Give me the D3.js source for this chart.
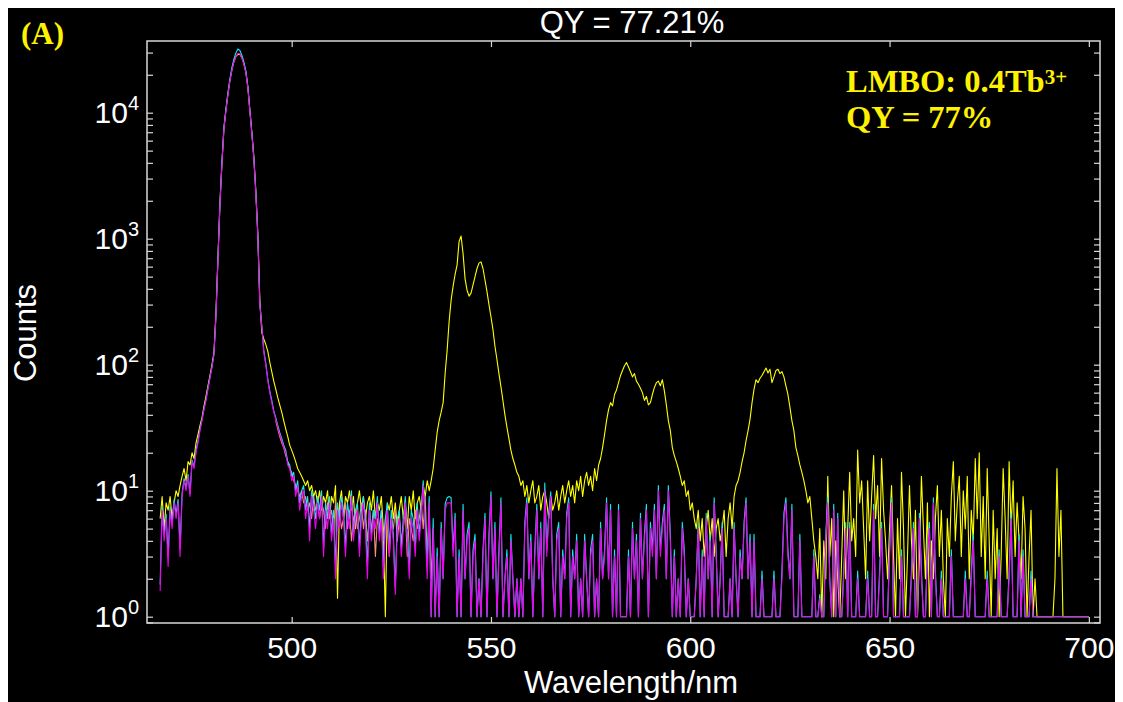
<!DOCTYPE html>
<html>
<head>
<meta charset="utf-8">
<script src="https://cdn.jsdelivr.net/npm/d3@7"></script>
<style>
  html, body { margin: 0; padding: 0; background: #fff; }
  svg { display: block; }
</style>
</head>
<body>
<svg id="chart" width="1123" height="702"></svg>
<script>
// spectra sampled every 0.5 nm starting at 467 nm
var wlStart = 467;
var wlStep = 0.5;

// sample (yellow) - LMBO:0.4Tb
var sampleCounts = [
  6, 9, 5, 8, 7, 9, 6, 8, 10, 9,
  11, 13, 15, 12, 17, 16, 20, 18, 24, 28,
  33, 38, 47, 56, 68, 82, 100, 125, 260, 700,
  1900, 4000, 7500, 10500, 14000, 18000, 22000, 25500, 28000, 29000,
  29000, 27500, 24500, 21000, 16000, 10500, 7000, 4500, 2400, 1100,
  330, 180, 160, 145, 128, 105, 88, 74, 64, 55,
  48, 42, 36, 31, 27, 23, 21, 19, 17, 15,
  14, 13, 12, 11, 12, 10, 11, 9, 10, 8,
  10, 7, 9, 8, 10, 6, 9, 8, 11, 1.4,
  8, 10, 6, 9, 8, 10, 7, 9, 5, 8,
  10, 7, 9, 6, 8, 9, 7, 10, 6, 8,
  7, 9, 5, 1, 8, 7, 9, 6, 8, 5,
  7, 9, 6, 8, 5, 9, 7, 10, 6, 8,
  9, 7, 11, 9, 12, 10, 12, 15, 21, 29,
  36, 42, 50, 85, 130, 220, 325, 420, 520, 620,
  950, 1050, 760, 480, 390, 350, 370, 430, 500, 580,
  640, 655, 580, 470, 380, 300, 240, 190, 140, 110,
  85, 67, 52, 40, 32, 26, 21, 18, 16, 14,
  13, 11, 12, 9, 11, 8, 10, 12, 8, 9,
  11, 7, 9, 10, 8, 6, 9, 7, 8, 10,
  7, 9, 11, 8, 10, 12, 9, 11, 8, 12,
  10, 13, 9, 12, 14, 11, 13, 10, 15, 12,
  16, 18, 22, 28, 36, 44, 50, 47, 58, 63,
  72, 82, 90, 98, 104, 96, 88, 80, 85, 74,
  70, 65, 60, 52, 56, 48, 50, 58, 66, 72,
  74, 68, 76, 62, 48, 36, 30, 22, 19, 17,
  15, 13, 11, 12, 9, 10, 7, 8, 6, 5,
  7, 4, 6, 3, 5, 7, 4, 6, 3, 5,
  6, 4, 5, 7, 3, 6, 8, 5, 9, 11,
  12, 14, 17, 20, 25, 30, 37, 50, 64, 76,
  72, 78, 82, 88, 94, 86, 92, 72, 80, 90,
  92, 85, 88, 80, 68, 58, 46, 36, 30, 22,
  19, 16, 14, 12, 10, 8, 9, 6, 4, 3,
  2, 5, 1, 4, 2, 13, 3, 6, 1, 4,
  2, 1, 3, 10, 2, 5, 14, 4, 6, 3,
  21, 8, 12, 5, 2, 12, 4, 9, 19, 6,
  11, 3, 18, 7, 4, 2, 5, 11, 3, 1,
  6, 2, 14, 5, 1, 3, 11, 4, 2, 7,
  1, 3, 13, 5, 2, 8, 1, 4, 2, 6,
  11, 3, 7, 2, 1, 6, 3, 9, 17, 4,
  8, 13, 3, 10, 5, 13, 2, 7, 4, 18,
  6, 20, 3, 9, 2, 15, 4, 1, 7, 2,
  5, 1, 3, 15, 6, 2, 17, 5, 12, 3,
  8, 4, 2, 9, 5, 1, 3, 7, 1, 2,
  1, 1, 1, 1, 1, 1, 1, 1, 1, 2,
  15, 3, 7, 1, 1, 1, 1, 1, 1, 1,
  1, 1, 1, 1, 1, 1, 1
];

// reference scan (magenta)
var blankMagenta = [
  1.6, 7, 4, 6, 2.5, 7, 5, 8, 6, 8,
  3, 9, 12, 10, 13, 9, 17, 15, 20, 24,
  30, 36, 44, 52, 64, 78, 95, 120, 240, 680,
  1850, 3900, 7400, 10300, 13800, 17800, 21800, 25300, 27800, 29600,
  29300, 27200, 24200, 20700, 15700, 10300, 6800, 4300, 2300, 1050,
  300, 200, 125, 100, 75, 60, 50, 42, 37, 32,
  28, 25, 22, 20, 16, 15, 12, 13, 9, 11,
  7, 9, 10, 6, 8, 4, 9, 7, 5, 8,
  6, 9, 3, 7, 5, 8, 4, 6, 2, 7,
  5, 8, 6, 3, 7, 5, 9, 4, 6, 7,
  3, 6, 8, 5, 2, 7, 4, 6, 5, 8,
  4, 6, 2, 5, 7, 3, 6, 4, 1.5, 5,
  6, 3, 5, 8, 4, 2, 6, 5, 3, 7,
  4, 6, 11, 5, 2, 8, 1, 5, 1, 3,
  1, 5, 2, 7, 8, 8, 8, 3, 6, 1,
  3, 1, 7, 2, 4, 5, 1, 3, 4, 1,
  2, 1, 3, 6, 1, 4, 9, 2, 5, 1,
  3, 8, 1, 2, 3, 1, 4, 2, 1, 2,
  1, 2, 1, 5, 8, 2, 4, 1, 3, 7,
  2, 5, 1, 10, 3, 6, 9, 2, 1, 4,
  5, 1, 3, 2, 6, 8, 1, 3, 2, 4,
  1, 2, 1, 4, 2, 1, 3, 4, 1, 2,
  1, 5, 2, 3, 8, 2, 7, 1, 3, 1,
  7, 1, 1, 1, 1, 3, 1, 5, 2, 4,
  1, 6, 2, 4, 7, 1, 5, 3, 7, 2,
  10, 3, 5, 7, 2, 10, 4, 1, 3, 1,
  2, 1, 5, 3, 1, 2, 1, 1, 1, 2,
  5, 1, 3, 1, 6, 2, 4, 1, 8, 3,
  1, 2, 5, 1, 1, 1, 2, 1, 5, 2,
  1, 3, 2, 5, 8, 2, 4, 1, 4, 1,
  1, 1, 2, 1, 1, 1, 1, 1, 2, 1,
  1, 1, 2, 6, 8, 3, 2, 7, 1, 1,
  1, 4, 1, 1, 1, 1, 1, 1, 3, 1,
  1, 1.4, 1, 1, 4, 8, 2, 1, 7, 1,
  6, 1, 1, 2, 5, 1, 5, 1, 1, 1,
  2, 1, 1, 1, 1, 2, 1, 1, 7, 1,
  1, 2, 5, 1, 1, 1, 3, 8, 1, 1,
  1, 1, 3, 1, 1, 1, 1, 2, 5, 1,
  1, 6, 2, 1, 1, 3, 5, 1, 8, 2,
  1, 1, 2, 1, 1, 1, 1, 3, 1, 1,
  1, 1, 1, 1, 2, 1, 1, 2, 4, 1,
  1, 1, 1, 1, 1, 2, 1, 1, 1, 1,
  1, 3, 1, 1, 1, 1, 2, 6, 1, 1,
  1, 4, 1, 3, 1, 1, 1, 2, 1, 1,
  1, 1, 1, 1, 1, 1, 1, 1, 1, 1,
  1, 1, 1, 1, 1, 1, 1, 1, 1, 1,
  1, 1, 1, 1, 1, 1, 1
];

// reference scan (cyan)
var blankCyan = [
  1.8, 7.5, 4.5, 6.5, 3, 7.5, 5.5, 8.5, 6.5, 8.5,
  3.5, 9.5, 12.5, 10.5, 13.5, 9.5, 17.5, 15.5, 21, 25,
  31, 37, 45, 53, 66, 80, 97, 122, 245, 700,
  1900, 4050, 7700, 10700, 14400, 18600, 22800, 26600, 29800, 32000,
  31200, 28600, 25300, 21500, 16200, 10600, 7000, 4400, 2350, 1080,
  310, 205, 130, 103, 77, 62, 52, 43, 38, 33,
  29, 26, 23, 21, 17, 16, 13, 14, 10, 12,
  8, 10, 11, 7, 9, 5, 10, 8, 6, 9,
  7, 10, 3.5, 8, 6, 9, 4.5, 7, 2.5, 8,
  6, 9, 7, 3.5, 8, 6, 10, 4.5, 7, 8,
  3.5, 7, 9, 6, 2.5, 8, 4.5, 7, 6, 9,
  4.5, 7, 2.5, 6, 8, 3.5, 7, 4.5, 1.7, 6,
  7, 3.5, 6, 9, 4.5, 2.5, 7, 6, 3.5, 8,
  4.5, 7, 12, 6, 2.5, 9, 1, 6, 1, 3.5,
  1, 5.6, 2, 7.8, 8.8, 9, 8.8, 3.4, 6.6, 1,
  3.4, 1, 7.8, 2, 4.5, 5.6, 1, 3.4, 4.5, 1,
  2, 1, 3.4, 6.6, 1, 4.5, 9.8, 2, 5.6, 1,
  3.4, 8.8, 1, 2, 3.4, 1, 4.5, 2, 1, 2,
  1, 2, 1, 5.6, 8.8, 2, 4.5, 1, 3.4, 7.8,
  2, 5.6, 1, 11.5, 3.4, 6.6, 9.8, 2, 1, 4.5,
  5.6, 1, 3.4, 2, 6.6, 8.8, 1, 3.4, 2, 4.5,
  1, 2, 1, 4.5, 2, 1, 3.4, 4.5, 1, 2,
  1, 5.6, 2, 3.4, 8.8, 2, 7.8, 1, 3.4, 1,
  7.8, 1, 1, 1, 1, 3.4, 1, 5.6, 2, 4.5,
  1, 6.6, 2, 4.5, 7.8, 1, 5.6, 3.4, 7.8, 2,
  11, 3.4, 5.6, 7.8, 2, 11, 4.5, 1, 3.4, 1,
  2, 1, 5.6, 3.4, 1, 2, 1, 1, 1, 2,
  5.6, 1, 3.4, 1, 6.6, 2, 4.5, 1, 8.8, 3.4,
  1, 2, 5.6, 1, 1, 1, 2, 1, 5.6, 2,
  1, 3.4, 2, 5.6, 8.8, 2, 4.5, 1, 4.5, 1,
  1, 1, 2.3, 1, 1, 1, 1, 1, 2.3, 1,
  1, 1, 2.3, 6.6, 8.8, 3.4, 2, 7.8, 1, 1,
  1, 4.5, 1, 1, 1, 1, 1, 1, 3.4, 1,
  1, 1.5, 1, 1, 4.5, 8.8, 2, 1, 7.8, 1,
  6.6, 1, 1, 2.3, 5.6, 1, 5.6, 1, 1, 1,
  2.3, 1, 1, 1, 1, 2.3, 1, 1, 7.8, 1,
  1, 2.3, 5.6, 1, 1, 1, 3.4, 8.8, 1, 1,
  1, 1, 3.4, 1, 1, 1, 1, 2.3, 5.6, 1,
  1, 6.6, 2.3, 1, 1, 3.4, 5.6, 1, 8.8, 2.3,
  1, 1, 2.3, 1, 1, 1, 1, 3.4, 1, 1,
  1, 1, 1, 1, 2.3, 1, 1, 2.3, 4.5, 1,
  1, 1, 1, 1, 1, 2.3, 1, 1, 1, 1,
  1, 3.4, 1, 1, 1, 1, 2.3, 6.6, 1, 1,
  1, 4.5, 1, 3.4, 1, 1, 1, 2.3, 1, 1,
  1, 1, 1, 1, 1, 1, 1, 1, 1, 1,
  1, 1, 1, 1, 1, 1, 1, 1, 1, 1,
  1, 1, 1, 1, 1, 1, 1
];

// reference scan (salmon), starts at 496 nm
var salmonStart = 496;
var blankSalmon = [
  36, 31, 27, 24, 22, 19, 17, 15, 14, 12,
  11, 10, 9, 10, 8, 9, 7, 8, 6, 9,
  7, 8, 6, 8, 7, 5, 8, 6, 7, 5,
  8, 6, 7, 5, 6, 8, 5, 7, 4, 6,
  7, 5, 6, 8, 5, 7, 4, 6, 5, 7,
  3, 6, 5, 7, 4, 6, 5, 3, 6, 5,
  7, 4, 6, 4, 5, 7, 3, 6, 5, 4,
  7, 5, 6, 8, 5, 9, 3, 6, 2, 5
];

var xTicks = [500, 550, 600, 650, 700];
var yMajor = [0, 1, 2, 3, 4];

var svg = d3.select("#chart");

// black panel with thin white border round it
svg.append("rect")
  .attr("x", 8).attr("y", 8)
  .attr("width", 1107).attr("height", 694)
  .attr("fill", "#000");

var plotL = 147, plotR = 1100, plotT = 41, plotB = 623;

var x = d3.scaleLinear().domain([463.7, 702.8]).range([plotL, plotR]);
var y = d3.scaleLog().domain([0.891, 37070]).range([plotB, plotT]);

svg.append("clipPath").attr("id", "plotclip")
  .append("rect")
  .attr("x", plotL).attr("y", plotT)
  .attr("width", plotR - plotL).attr("height", plotB - plotT);

var plot = svg.append("g").attr("clip-path", "url(#plotclip)");

function lineFor(start) {
  return d3.line()
    .x(function(d, i) { return x(start + wlStep * i); })
    .y(function(d) { return y(d); });
}

var series = [
  { data: sampleCounts, start: wlStart, color: "#ffff00" },
  { data: blankSalmon, start: salmonStart, color: "#f4907a" },
  { data: blankCyan, start: wlStart, color: "#19e6f0" },
  { data: blankMagenta, start: wlStart, color: "#f000f0" }
];

series.forEach(function(s) {
  plot.append("path")
    .datum(s.data)
    .attr("d", lineFor(s.start))
    .attr("fill", "none")
    .attr("stroke", s.color)
    .attr("stroke-width", 1.1)
    .attr("stroke-linejoin", "round");
});

// axes: inward ticks on all four sides
var frameColor = "#d8d8d8";
var tickLen = 6;

var axB = svg.append("g").attr("transform", "translate(0," + plotB + ")")
  .call(d3.axisBottom(x).tickValues(xTicks).tickSize(-tickLen).tickPadding(14));
var axT = svg.append("g").attr("transform", "translate(0," + plotT + ")")
  .call(d3.axisTop(x).tickValues(xTicks).tickSize(-tickLen).tickFormat(""));
var axL = svg.append("g").attr("transform", "translate(" + plotL + ",0)")
  .call(d3.axisLeft(y).tickValues(y.ticks()).tickSize(-tickLen).tickFormat(""));
var axR = svg.append("g").attr("transform", "translate(" + plotR + ",0)")
  .call(d3.axisRight(y).tickValues(y.ticks()).tickSize(-tickLen).tickFormat(""));

[axB, axT, axL, axR].forEach(function(a) {
  a.select(".domain").remove();
  a.selectAll(".tick line").attr("stroke", frameColor).attr("stroke-width", 1.2);
});

axB.selectAll(".tick text")
  .attr("fill", "#fff")
  .attr("font-family", "Arial, 'Liberation Sans', sans-serif")
  .attr("font-size", 30);

// y labels as 10^n
yMajor.forEach(function(p) {
  var t = svg.append("text")
    .attr("x", 139)
    .attr("y", y(Math.pow(10, p)) + 10)
    .attr("text-anchor", "end")
    .attr("fill", "#fff")
    .attr("font-family", "Arial, 'Liberation Sans', sans-serif")
    .attr("font-size", 30);
  t.append("tspan").text("10");
  t.append("tspan").attr("dy", -13).attr("font-size", 20).text(p);
});

// frame
svg.append("rect")
  .attr("x", plotL).attr("y", plotT)
  .attr("width", plotR - plotL).attr("height", plotB - plotT)
  .attr("fill", "none")
  .attr("stroke", frameColor)
  .attr("stroke-width", 1.5);

// titles
svg.append("text")
  .attr("x", 632).attr("y", 33)
  .attr("text-anchor", "middle")
  .attr("fill", "#fff")
  .attr("font-family", "Arial, 'Liberation Sans', sans-serif")
  .attr("font-size", 31)
  .text("QY = 77.21%");

svg.append("text")
  .attr("x", 631).attr("y", 693)
  .attr("text-anchor", "middle")
  .attr("fill", "#fff")
  .attr("font-family", "Arial, 'Liberation Sans', sans-serif")
  .attr("font-size", 31)
  .text("Wavelength/nm");

svg.append("text")
  .attr("transform", "translate(36,333) rotate(-90)")
  .attr("text-anchor", "middle")
  .attr("fill", "#fff")
  .attr("font-family", "Arial, 'Liberation Sans', sans-serif")
  .attr("font-size", 31)
  .text("Counts");

var serif = "'Times New Roman', 'Liberation Serif', serif";
var gold = "#fff200";

svg.append("text")
  .attr("x", 21).attr("y", 44)
  .attr("fill", gold)
  .attr("font-family", serif)
  .attr("font-weight", "bold")
  .attr("font-size", 31)
  .text("(A)");

var note = svg.append("text")
  .attr("x", 846).attr("y", 92)
  .attr("fill", gold)
  .attr("font-family", serif)
  .attr("font-weight", "bold")
  .attr("font-size", 32.5);
note.append("tspan").text("LMBO: 0.4Tb");
note.append("tspan").attr("dy", -8).attr("font-size", 21).text("3+");

svg.append("text")
  .attr("x", 846).attr("y", 128)
  .attr("fill", gold)
  .attr("font-family", serif)
  .attr("font-weight", "bold")
  .attr("font-size", 32.5)
  .text("QY = 77%");
</script>
</body>
</html>
